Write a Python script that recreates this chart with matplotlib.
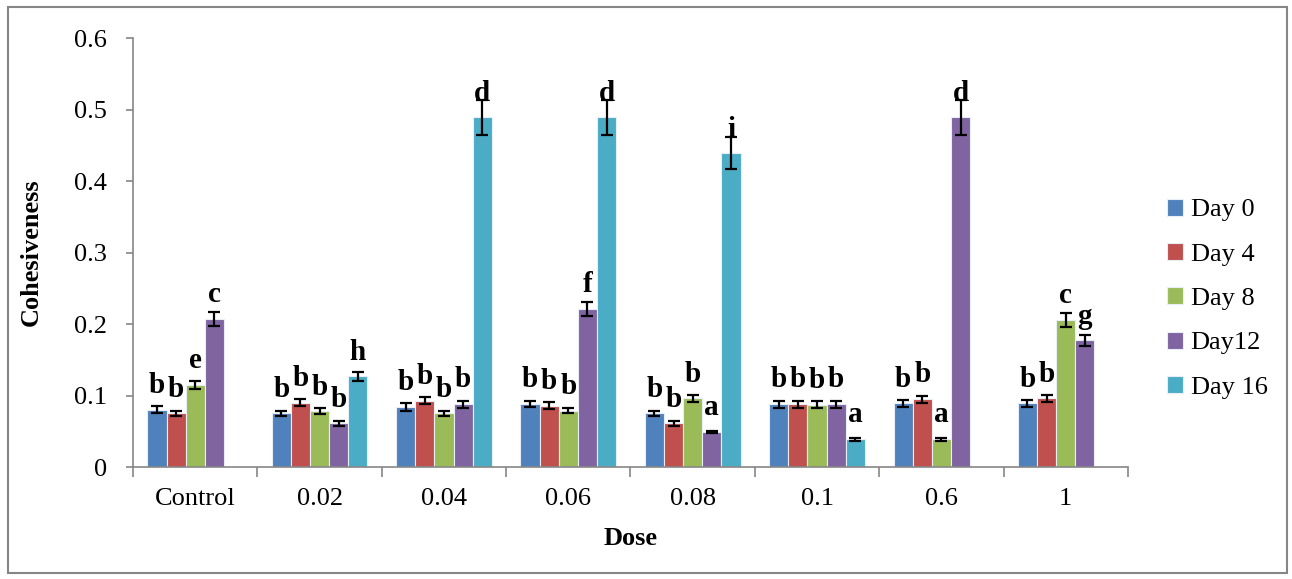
import matplotlib

matplotlib.use("Agg")
import matplotlib.pyplot as plt
import numpy as np
from matplotlib.patches import Rectangle
from matplotlib.ticker import FixedLocator, FuncFormatter

plt.rcParams["font.family"] = ["Liberation Serif", "DejaVu Serif"]

doses = ["Control", "0.02", "0.04", "0.06", "0.08", "0.1", "0.6", "1"]
series = ["Day 0", "Day 4", "Day 8", "Day12", "Day 16"]
colors = ["#4F81BD", "#C0504D", "#9BBB59", "#8064A2", "#4BACC6"]

nan = np.nan
day0 = [0.080, 0.075, 0.084, 0.088, 0.075, 0.088, 0.089, 0.089]
day4 = [0.075, 0.090, 0.093, 0.086, 0.061, 0.088, 0.095, 0.096]
day8 = [0.115, 0.078, 0.075, 0.079, 0.096, 0.087, 0.039, 0.206]
day12 = [0.207, 0.061, 0.088, 0.221, 0.049, 0.088, 0.489, 0.177]
day16 = [nan, 0.127, 0.489, 0.489, 0.439, 0.039, nan, nan]

err0 = [0.005, 0.004, 0.005, 0.004, 0.004, 0.005, 0.005, 0.005]
err4 = [0.004, 0.005, 0.005, 0.005, 0.003, 0.005, 0.005, 0.005]
err8 = [0.006, 0.004, 0.004, 0.004, 0.005, 0.005, 0.002, 0.010]
err12 = [0.010, 0.003, 0.005, 0.010, 0.002, 0.005, 0.025, 0.008]
err16 = [nan, 0.006, 0.025, 0.025, 0.022, 0.002, nan, nan]

let0 = ["b", "b", "b", "b", "b", "b", "b", "b"]
let4 = ["b", "b", "b", "b", "b", "b", "b", "b"]
let8 = ["e", "b", "b", "b", "b", "b", "a", "c"]
let12 = ["c", "b", "b", "f", "a", "b", "d", "g"]
let16 = ["", "h", "d", "d", "i", "a", "", ""]

values = [day0, day4, day8, day12, day16]
errors = [err0, err4, err8, err12, err16]
letters = [let0, let4, let8, let12, let16]

fig = plt.figure(figsize=(12.92, 5.79), dpi=100)
ax = fig.add_axes([0.103, 0.1934, 0.770, 0.7408])

x = np.arange(len(doses))
width = 1 / 6.5
for i, (name, vals, errs, lets, color) in enumerate(zip(series, values, errors, letters, colors)):
    vals = np.array(vals, dtype=float)
    errs = np.array(errs, dtype=float)
    pos = x + (i - 2) * width
    ok = ~np.isnan(vals)
    ax.bar(pos[ok], vals[ok], width, color=color, edgecolor="#e8eef5", linewidth=0.8,
           label=name, zorder=2)
    ax.errorbar(pos[ok], vals[ok], yerr=errs[ok], fmt="none", ecolor="black",
                elinewidth=1.6, capsize=4, capthick=1.6, zorder=3)
    for p, v, t in zip(pos, vals, lets):
        if t and not np.isnan(v):
            ax.annotate(t, (p, v), xytext=(0, 12), textcoords="offset points",
                        ha="center", va="baseline", fontsize=21, fontweight="bold", zorder=4)

ax.set_xlim(-0.5, len(doses) - 0.5)
ax.set_ylim(0, 0.6)
ax.set_yticks(np.arange(0, 0.61, 0.1))
ax.yaxis.set_major_formatter(FuncFormatter(lambda v, _: "0" if abs(v) < 1e-9 else f"{v:.1f}"))
ax.set_xticks(x)
ax.set_xticklabels(doses)
ax.xaxis.set_minor_locator(FixedLocator(np.arange(-0.5, len(doses), 1.0)))

axis_gray = "#868686"
for side in ["top", "right"]:
    ax.spines[side].set_visible(False)
for side in ["left", "bottom"]:
    ax.spines[side].set_color(axis_gray)
    ax.spines[side].set_linewidth(1.2)

ax.tick_params(axis="y", direction="out", length=5, width=1.2, color=axis_gray,
               pad=14, labelsize=19)
ax.tick_params(axis="x", which="major", length=0, pad=15, labelsize=19)
ax.tick_params(axis="x", which="minor", direction="out", length=7, width=1.2, color=axis_gray)

ax.set_xlabel("Dose", fontsize=19, fontweight="bold", labelpad=12)
ax.set_ylabel("Cohesiveness", fontsize=19, fontweight="bold", labelpad=22)

fig.legend(loc="center left", bbox_to_anchor=(0.895, 0.484), frameon=False, fontsize=19,
           handlelength=0.6, handleheight=0.6, handletextpad=0.3, labelspacing=0.82,
           borderaxespad=0)

fig.patches.append(Rectangle((0.006, 0.01), 0.990, 0.978, transform=fig.transFigure,
                             fill=False, edgecolor=axis_gray, linewidth=1.5))

fig.savefig("out.png", dpi=100)
